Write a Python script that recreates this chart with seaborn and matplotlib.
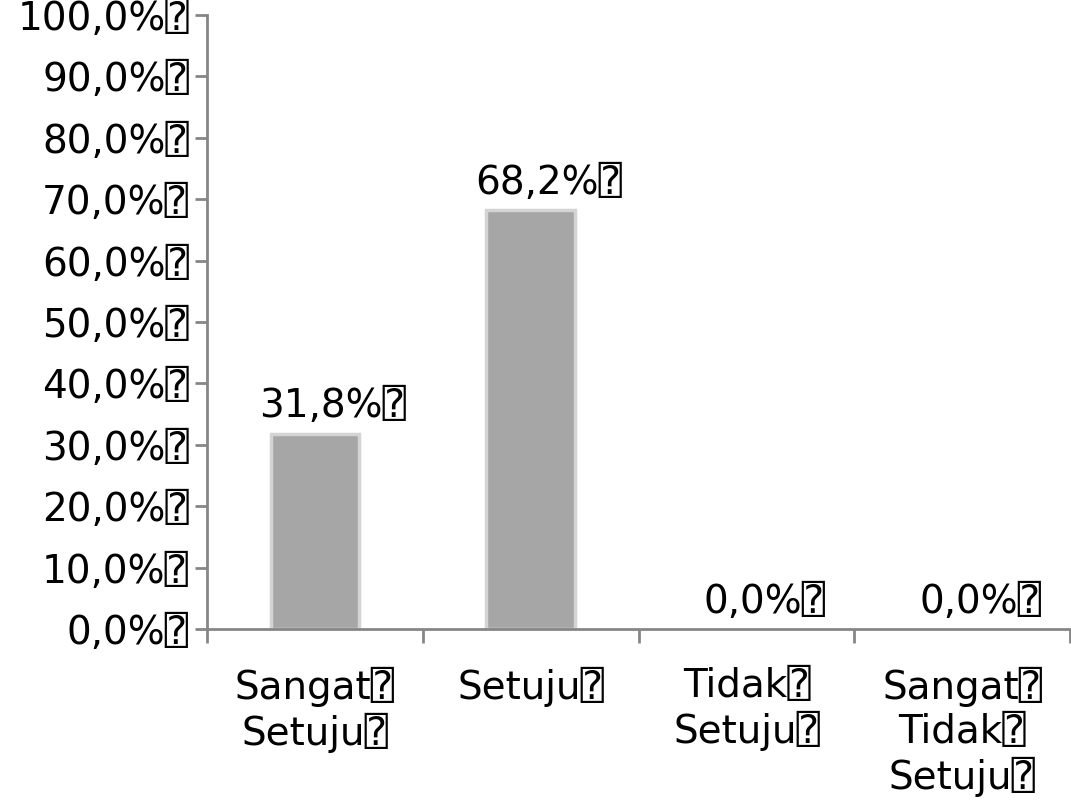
import numpy as np
import pandas as pd

import matplotlib
matplotlib.use('Agg')
import matplotlib.pyplot as plt
import seaborn as sns

# Chart data
categories = ['Sangat\u2370\nSetuju\u2370', 'Setuju\u2370', 'Tidak\u2370\nSetuju\u2370', 'Sangat\u2370\nTidak\u2370\nSetuju\u2370']
percentages = [31.8, 68.2, 0.0, 0.0]
bar_labels = ['31,8%\u2370', '68,2%\u2370', '0,0%\u2370', '0,0%\u2370']
y_ticks = list(range(0, 101, 10))
y_tick_labels = [f'{t},0%\u2370' for t in y_ticks]

sns.set_style('white')
plt.rcParams['font.family'] = ['DejaVu Sans', 'DejaVu Sans Mono']
plt.rcParams['text.color'] = 'black'
plt.rcParams['xtick.labelcolor'] = 'black'
plt.rcParams['ytick.labelcolor'] = 'black'

df = pd.DataFrame({'category': categories, 'pct': percentages})

fig = plt.figure(figsize=(10.71, 8.05), dpi=100)
ax = fig.add_axes([0.1933, 0.2186, 0.806, 0.7628])

sns.barplot(data=df, x='category', y='pct', color='#a6a6a6', saturation=1,
            width=0.41, linewidth=0, ax=ax)

# soft light edge only on visible bars
for patch, val in zip(ax.patches, percentages):
    if val > 0:
        patch.set_edgecolor('#d4d4d4')
        patch.set_linewidth(2.5)

# Value labels above each bar
for i, (val, lab) in enumerate(zip(percentages, bar_labels)):
    ax.annotate(lab, (i, val), xytext=(13, 6), textcoords='offset points',
                ha='center', va='bottom', fontsize=28, color='black')

ax.set_ylim(0, 100)
ax.set_xlim(-0.5, 3.5)
ax.set_yticks(y_ticks)
ax.set_yticklabels(y_tick_labels, fontsize=28)

# category labels without tick marks, boundary ticks between categories
ax.set_xticks(range(len(categories)))
ax.set_xticklabels(categories, fontsize=28, linespacing=1.2)
ax.tick_params(axis='x', which='major', bottom=False, length=0, pad=27)
ax.set_xticks(np.arange(-0.5, 4.0, 1.0), minor=True)
ax.tick_params(axis='x', which='minor', bottom=True, length=10, width=2,
               color='#868686', direction='out')
ax.tick_params(axis='y', left=True, length=9, width=2, color='#868686',
               direction='out', pad=4)

ax.set_xlabel('')
ax.set_ylabel('')
for side in ['top', 'right']:
    ax.spines[side].set_visible(False)
for side in ['left', 'bottom']:
    ax.spines[side].set_color('#868686')
    ax.spines[side].set_linewidth(2)

fig.savefig('out.png', dpi=100)
